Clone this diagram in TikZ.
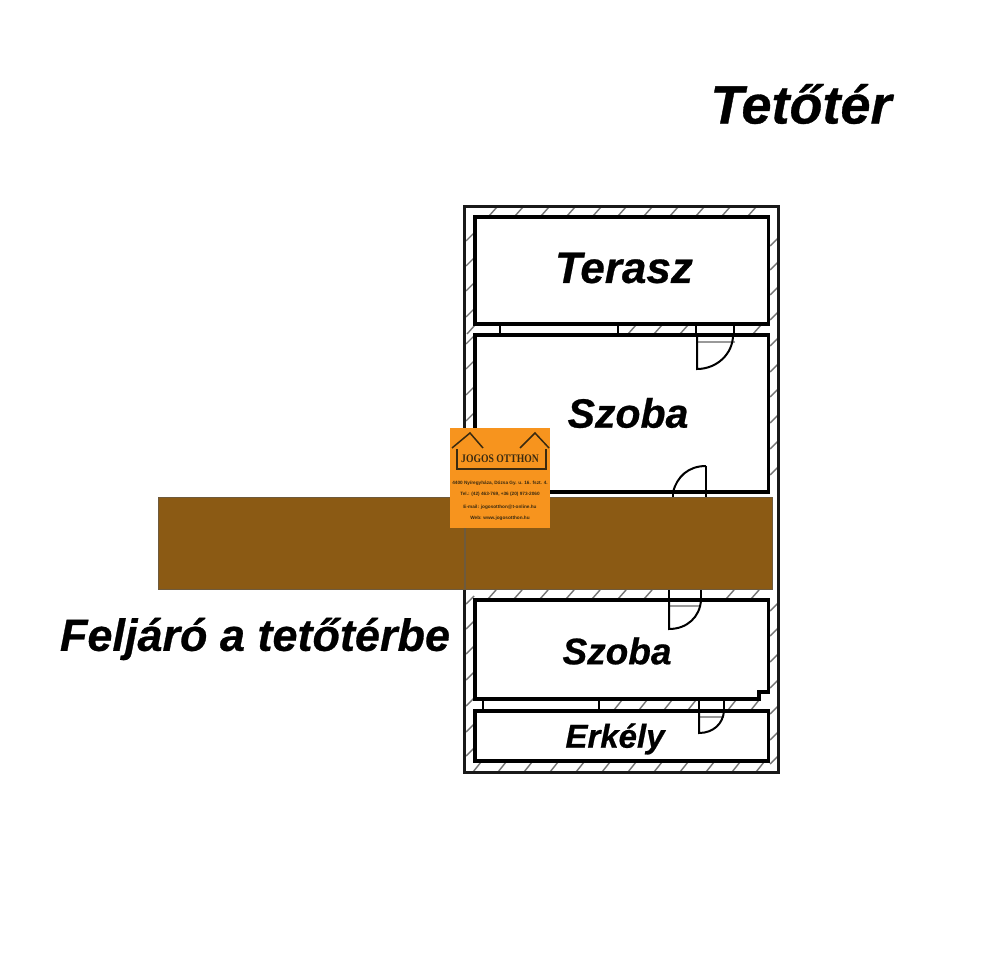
\documentclass[tikz,border=0pt]{standalone}
\usepackage{fontspec}
\setmainfont[BoldItalicFeatures={FakeBold=0.6}]{Liberation Sans}
\newfontfamily\logoserif{Liberation Serif}
\definecolor{brownbar}{HTML}{8B5A14}
\definecolor{brownedge}{HTML}{6E5A3C}
\definecolor{logoorange}{HTML}{F7941E}
\definecolor{logoink}{HTML}{3A2A10}
\tikzset{
  wallline/.style={draw=black,line width=3.2pt,line join=miter},
  outerwall/.style={draw=black!90,line width=3.8pt},
  hatchtick/.style={draw=black!55,line width=1.4pt},
  doorleaf/.style={draw=black,line width=2pt},
  doorsill/.style={draw=black!40,line width=1.2pt},
  jamb/.style={draw=black,line width=2.6pt},
  label/.style={font=\bfseries\itshape,inner sep=0pt,text=black},
  logoline/.style={font=\bfseries,text=logoink,inner sep=0pt},
  logostroke/.style={draw=logoink,line width=1.5pt}
}
\newcommand{\fs}[1]{\fontsize{#1}{#1}\selectfont}
\begin{document}
\begin{tikzpicture}[x=1pt,y=-1pt]
\useasboundingbox (0,0) rectangle (1000,957);
\fill[white] (0,0) rectangle (1000,957);
% hatching: horizontal bands
\foreach \x in {493,519,545,571,597,622,648,674,700,726,752}
  \draw[hatchtick] (\x-4,216) -- (\x+4,207);
\foreach \x in {471,632,658,684,757}
  \draw[hatchtick] (\x-4,334) -- (\x+4,325);
\foreach \x in {492,518,544,570,596,622,648,730,755}
  \draw[hatchtick] (\x-4,599) -- (\x+4,590);
\foreach \x in {618,643,668,692,732,755}
  \draw[hatchtick] (\x-4,710) -- (\x+4,700);
\foreach \x in {477,502,528,554,580,606,632,658,684,710,736,760}
  \draw[hatchtick] (\x-4,772) -- (\x+4,762);
% hatching: vertical bands
\foreach \y in {237,262,287,313,340,365,391,417,443,600,625,650,676,702,728,752}
  \draw[hatchtick] (466,\y+4) -- (474,\y-4);
\foreach \y in {242,266,291,316,342,368,393,419,445,471,607,632,658,684,710,736,760}
  \draw[hatchtick] (770,\y+4) -- (778,\y-4);
% walls
\draw[outerwall] (464.5,206.5) rectangle (778.5,772.5);
\draw[wallline] (475,217) rectangle (768.5,324);
\draw[wallline] (475,335) rectangle (768.5,492);
\draw[wallline] (475,600) -- (768.5,600) -- (768.5,692) -- (759,692) -- (759,699) -- (475,699) -- cycle;
\draw[wallline] (475,711) rectangle (768.5,761);
% windows
\draw[jamb] (500,324) -- (500,335);
\draw[jamb] (618,324) -- (618,335);
\draw[jamb] (483,699) -- (483,711);
\draw[jamb] (599,699) -- (599,711);
% door terrace
\draw[jamb] (696,324) -- (696,335);
\draw[jamb] (734,324) -- (734,335);
\draw[doorsill] (696,342) -- (735,342);
\draw[doorleaf] (697,335) -- (697,369) arc[start angle=270,end angle=360,x radius=36,y radius=-34];
% door room 2
\draw[doorleaf] (706,492) -- (706,466);
\draw[doorleaf] (706,466) .. controls (688,466) and (677,477) .. (673,492);
\draw[jamb] (673,490) -- (673,497);
\draw[jamb] (706,490) -- (706,497);
% door room 3
\draw[jamb] (669,589) -- (669,600);
\draw[jamb] (701,589) -- (701,600);
\draw[doorsill] (669,606) -- (701,606);
\draw[doorleaf] (669,600) -- (669,629) .. controls (687,629) and (700,617) .. (701,600);
% door balcony
\draw[jamb] (699,699) -- (699,711);
\draw[jamb] (724,699) -- (724,711);
\draw[doorsill] (699,717) -- (724,717);
\draw[doorleaf] (699,711) -- (699,733) .. controls (713,733) and (723,724) .. (724,711);
% stairway bar
\draw[fill=brownbar,draw=brownedge,line width=0.8pt] (158.5,497) rectangle (772,589);
\draw[draw=brownedge,line width=1.5pt] (465,497) -- (465,589);
% logo
\fill[logoorange] (450,428) rectangle (550,528);
\draw[logostroke] (452,448) -- (470,433) -- (483,448);
\draw[logostroke] (520,448) -- (535,433) -- (549,448);
\draw[logostroke] (457,449) -- (457,469) -- (546,469) -- (546,449);
\node[font=\logoserif\bfseries\fs{11.5},text=logoink,inner sep=0pt,xscale=.84] (logoname) at (500,459) {JOGOS OTTHON};
\node[logoline,font=\bfseries\fs{4.7}] (logoa) at (500,483) {4400 Nyíregyháza, Dózsa Gy. u. 16. fszt. 4.};
\node[logoline,font=\bfseries\fs{4.7}] (logob) at (500,494) {Tel.: (42) 463-769, +36 (20) 973-2060};
\node[logoline,font=\bfseries\fs{4.7}] (logoc) at (500,507) {E-mail: jogosotthon@t-online.hu};
\node[logoline,font=\bfseries\fs{4.7}] (logod) at (500,518) {Web: www.jogosotthon.hu};
% labels
\node[label,font=\bfseries\itshape\fs{54}] (title) at (801,104) {Tetőtér};
\node[label,font=\bfseries\itshape\fs{44}] (terasz) at (624,268) {Terasz};
\node[label,font=\bfseries\itshape\fs{41}] (szobaa) at (628,413) {Szoba};
\node[label,font=\bfseries\itshape\fs{37}] (szobab) at (617,651) {Szoba};
\node[label,font=\bfseries\itshape\fs{33}] (erkely) at (615,739) {Erkély};
\node[label,font=\bfseries\itshape\fs{45}] (feljaro) at (255,639) {Feljáró a tetőtérbe};
\end{tikzpicture}
\end{document}
